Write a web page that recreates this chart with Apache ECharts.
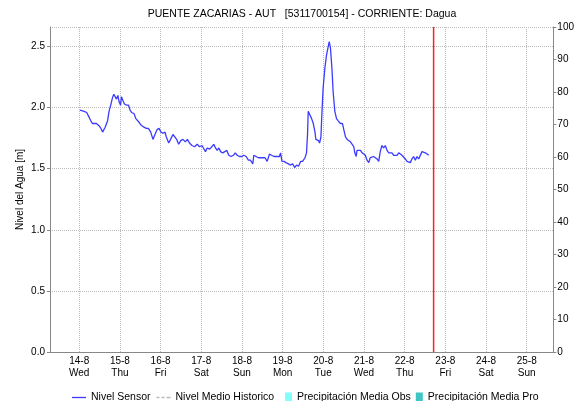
<!DOCTYPE html>
<html>
<head>
<meta charset="utf-8">
<script src="https://cdn.jsdelivr.net/npm/echarts@6/dist/echarts.min.js"></script>
<style>
html, body { margin: 0; padding: 0; background: #fff; }
#nivel { width: 577px; height: 401px; }
</style>
</head>
<body>
<div id="nivel"></div>
<script>
// horas desde 14-8-2019 00:00
var horas = [0.4, 2.9, 4.4, 5.9, 6.9, 7.9, 8.8, 10.2, 11.8, 12.8, 13.8, 15.3, 16.7, 17.6, 18.6, 19.6, 20.4, 21.2, 22.0, 22.8,
	23.5, 24.4, 24.9, 25.7, 26.7, 27.9, 29.1, 30.0, 31.0, 32.4, 33.4, 34.4, 35.3, 36.3, 37.3, 38.2, 39.6, 40.8, 42.2, 43.5,
	44.7, 45.9, 47.1, 48.2, 49.4, 50.6, 51.4, 52.8, 53.9, 55.3, 56.3, 57.5, 58.7, 59.9, 61.2, 62.6, 63.8, 65.1, 66.5, 68.1,
	69.6, 71.0, 72.4, 73.5, 74.5, 75.5, 76.9, 78.2, 79.4, 80.4, 81.4, 82.4, 83.4, 84.7, 85.7, 87.1, 88.2, 89.6, 91.0, 92.0,
	93.2, 94.5, 95.9, 97.1, 98.5, 99.8, 101.0, 102.4, 103.0, 103.9, 105.7, 107.6, 109.6, 110.9, 112.2, 113.5, 114.9, 116.5, 118.1, 118.8,
	119.6, 120.8, 122.0, 123.4, 124.7, 125.9, 127.1, 128.2, 129.4, 130.6, 131.8, 133.2, 134.1, 134.7, 135.1, 136.1, 137.1, 138.1, 139.1, 139.6,
	140.4, 141.2, 141.8, 142.6, 143.2, 143.9, 144.9, 145.9, 146.9, 147.5, 148.2, 149.1, 149.8, 150.8, 151.8, 152.9, 154.1, 155.3, 156.1, 157.1,
	158.1, 159.1, 160.0, 161.0, 162.0, 162.6, 163.4, 163.9, 164.9, 165.9, 166.9, 167.9, 168.8, 169.8, 170.8, 171.7, 172.7, 173.7, 174.7, 175.7,
	176.7, 177.6, 178.6, 179.6, 180.6, 181.6, 182.6, 183.5, 184.5, 185.5, 186.5, 187.5, 188.5, 189.4, 190.4, 191.4, 192.4, 193.4, 194.4, 195.3,
	196.3, 197.3, 198.3, 199.3, 200.3, 201.2, 202.2, 203.2, 204.2, 205.2, 206.2];
// nivel sensor [m]
var nivelSensor = [1.98, 1.97, 1.96, 1.92, 1.89, 1.87, 1.88, 1.87, 1.85, 1.83, 1.80, 1.84, 1.89, 1.97, 2.02, 2.08, 2.11, 2.09, 2.07, 2.10,
	2.05, 2.02, 2.09, 2.06, 2.03, 2.02, 2.02, 1.98, 1.96, 1.95, 1.91, 1.92, 1.88, 1.86, 1.87, 1.84, 1.83, 1.83, 1.80, 1.74,
	1.78, 1.82, 1.83, 1.80, 1.79, 1.80, 1.76, 1.71, 1.74, 1.78, 1.77, 1.74, 1.70, 1.73, 1.74, 1.72, 1.74, 1.71, 1.69, 1.68,
	1.70, 1.68, 1.69, 1.68, 1.64, 1.67, 1.66, 1.68, 1.70, 1.67, 1.65, 1.67, 1.64, 1.63, 1.64, 1.65, 1.61, 1.60, 1.61, 1.63,
	1.61, 1.60, 1.60, 1.61, 1.60, 1.57, 1.57, 1.54, 1.61, 1.60, 1.59, 1.59, 1.59, 1.56, 1.62, 1.61, 1.60, 1.60, 1.60, 1.63,
	1.56, 1.56, 1.55, 1.54, 1.53, 1.54, 1.51, 1.53, 1.52, 1.56, 1.56, 1.59, 1.63, 1.78, 1.97, 1.96, 1.91, 1.87, 1.80, 1.74,
	1.74, 1.73, 1.71, 1.76, 1.96, 2.16, 2.32, 2.43, 2.50, 2.54, 2.49, 2.32, 2.13, 1.97, 1.91, 1.89, 1.87, 1.87, 1.82, 1.76,
	1.74, 1.73, 1.72, 1.73, 1.68, 1.63, 1.60, 1.65, 1.64, 1.65, 1.63, 1.64, 1.61, 1.57, 1.55, 1.59, 1.60, 1.60, 1.61, 1.58,
	1.56, 1.64, 1.69, 1.67, 1.69, 1.65, 1.63, 1.64, 1.63, 1.61, 1.62, 1.61, 1.63, 1.63, 1.61, 1.61, 1.58, 1.56, 1.55, 1.55,
	1.58, 1.60, 1.57, 1.60, 1.58, 1.59, 1.64, 1.65, 1.63, 1.63, 1.61];
var diasSemana = ['Sun', 'Mon', 'Tue', 'Wed', 'Thu', 'Fri', 'Sat'];
var inicio = new Date(2019, 7, 14).getTime();
var ejeMin = new Date(2019, 7, 13, 6, 46).getTime();
var ejeMax = new Date(2019, 7, 25, 15, 42).getTime();
var ahora = new Date(2019, 7, 22, 17, 5).getTime();

var datos = [];
for (var i = 0; i < horas.length; i++) {
	datos.push([inicio + horas[i] * 3600000, nivelSensor[i]]);
}

var fuente = 'Liberation Sans, Arial, sans-serif';
var textoLeyenda = { fontSize: 10.5, color: '#000', fontFamily: fuente };
var myChart = echarts.init(document.getElementById('nivel'));
option = {
	animation: false,
	backgroundColor: '#fff',
	textStyle: { fontFamily: fuente },
	title: {
		text: 'PUENTE ZACARIAS - AUT   [5311700154] - CORRIENTE: Dagua',
		left: 302,
		textAlign: 'center',
		top: 9,
		padding: 0,
		textStyle: { fontSize: 10.5, fontWeight: 'normal', color: '#000', fontFamily: fuente }
	},
	// dos leyendas: lineas y barras (iconos de distinto ancho)
	legend: [{
		left: 72,
		top: 392,
		padding: 0,
		itemWidth: 14,
		itemHeight: 10,
		itemGap: 6,
		itemStyle: { borderWidth: 0 },
		textStyle: textoLeyenda,
		data: [
			{ name: 'Nivel Sensor', icon: 'path://M0,0L14,0L14,1.3L0,1.3Z' },
			{ name: 'Nivel Medio Historico', icon: 'path://M0,0L3,0L3,1.3L0,1.3Z M5,0L8,0L8,1.3L5,1.3Z M10,0L14,0L14,1.3L10,1.3Z' }
		]
	}, {
		left: 285,
		top: 392,
		padding: 0,
		itemWidth: 7,
		itemHeight: 10,
		itemGap: 5,
		itemStyle: { borderWidth: 0 },
		textStyle: textoLeyenda,
		data: [
			{ name: 'Precipitación Media Obs', icon: 'rect' },
			{ name: 'Precipitación Media Pro', icon: 'rect' }
		]
	}],
	grid: {
		left: 50,
		right: 22,
		top: 27,
		bottom: 49
	},
	xAxis: [{
		type: 'time',
		min: ejeMin,
		max: ejeMax,
		splitNumber: 12,
		axisLine: { lineStyle: { color: '#555', type: 'dotted', width: 1 } },
		axisTick: { show: false },
		axisLabel: {
			color: '#000',
			fontSize: 10,
			lineHeight: 12,
			margin: 3,
			showMinLabel: false,
			showMaxLabel: false,
			formatter: function (val) {
				var d = new Date(val);
				if (d.getHours() !== 0 || d.getMinutes() !== 0) return '';
				return d.getDate() + '-' + (d.getMonth() + 1) + '\n' + diasSemana[d.getDay()];
			}
		},
		splitLine: { show: true, lineStyle: { color: '#bbb', type: 'dotted' } }
	}, {
		type: 'time',
		position: 'top',
		min: ejeMin,
		max: ejeMax,
		axisLine: { show: true, lineStyle: { color: '#888' } },
		axisTick: { show: false },
		axisLabel: { show: false },
		splitLine: { show: false }
	}],
	yAxis: [{
		type: 'value',
		min: 0,
		max: 2.66,
		interval: 0.5,
		name: 'Nivel del Agua [m]',
		nameLocation: 'middle',
		nameGap: 25,
		nameMoveOverlap: false,
		nameTextStyle: { fontSize: 10, color: '#000', fontFamily: fuente },
		axisLine: { show: true, lineStyle: { color: '#888' } },
		axisTick: { show: true, length: 3, lineStyle: { color: '#888' } },
		axisLabel: {
			color: '#000',
			fontSize: 10,
			margin: 5,
			showMaxLabel: false,
			formatter: function (v) { return v.toFixed(1); }
		},
		splitLine: { show: true, lineStyle: { color: '#bbb', type: 'dotted' } }
	}, {
		type: 'value',
		min: 0,
		max: 100,
		interval: 10,
		position: 'right',
		axisLine: { show: true, lineStyle: { color: '#888' } },
		axisTick: { show: true, length: 3, lineStyle: { color: '#888' } },
		axisLabel: { color: '#000', fontSize: 10, margin: 4 },
		splitLine: { show: false }
	}],
	series: [{
		name: 'Nivel Sensor',
		type: 'line',
		symbol: 'none',
		color: '#3b3bff',
		lineStyle: { width: 1.3, color: '#3b3bff' },
		data: datos
	}, {
		// linea de hora actual
		name: 'Ahora',
		type: 'line',
		symbol: 'none',
		silent: true,
		color: '#ff2020',
		lineStyle: { width: 1.5, color: '#ff2020' },
		data: [[ahora, 0], [ahora, 2.66]]
	}, {
		name: 'Nivel Medio Historico',
		type: 'line',
		symbol: 'none',
		color: '#bbb',
		lineStyle: { width: 1, type: 'dashed', color: '#bbb' },
		data: []
	}, {
		name: 'Precipitación Media Obs',
		type: 'bar',
		xAxisIndex: 1,
		yAxisIndex: 1,
		color: '#80ffff',
		data: []
	}, {
		name: 'Precipitación Media Pro',
		type: 'bar',
		xAxisIndex: 1,
		yAxisIndex: 1,
		color: '#40c4c4',
		data: []
	}]
};
myChart.setOption(option);
</script>
</body>
</html>
